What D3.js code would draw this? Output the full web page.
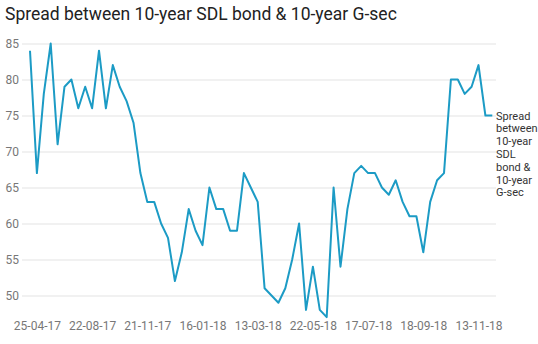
<!DOCTYPE html>
<html><head><meta charset="utf-8">
<script src="https://cdn.jsdelivr.net/npm/d3@7"></script>
<style>
body{margin:0;background:#fff;}
svg{display:block;font-family:Roboto,"Noto Sans",sans-serif;}
</style></head>
<body><svg id="c" width="538" height="344"></svg>
<script>
const title = "Spread between 10-year SDL bond & 10-year G-sec";
const seriesName = ["Spread","between","10-year","SDL","bond &","10-year","G-sec"];
const values = [84,67,78,85,71,79,80,76,79,76,84,76,82,79,77,74,67,63,63,60,58,52,56,62,59,57,65,62,62,59,59,67,65,63,51,50,49,51,55,60,48,54,48,47,65,54,62,67,68,67,67,65,64,66,63,61,61,56,63,66,67,80,80,78,79,82,75,75];
const tickIndex = [1,9,17,25,33,41,49,57,65];
const tickLabels = ["25-04-17","22-08-17","21-11-17","16-01-18","13-03-18","22-05-18","17-07-18","18-09-18","13-11-18"];
const yTicks = [50,55,60,65,70,75,80,85];

const svg = d3.select("#c");
const x = d3.scalePoint().domain(d3.range(values.length)).range([30, 492.3]);
const y = d3.scaleLinear().domain([50, 85]).range([295.5, 43.5]);

svg.append("text").attr("x",5).attr("y",20).attr("font-size",17.5).attr("fill","#222").text(title);

const yAxis = svg.append("g").attr("transform","translate(22,0)")
  .call(d3.axisLeft(y).tickValues(yTicks).tickSize(-474).tickPadding(3));
yAxis.select(".domain").remove();
yAxis.selectAll("line").attr("stroke","#e3e3e3");
yAxis.selectAll("text").attr("font-size",12).attr("fill","#777").attr("font-family","Roboto,sans-serif");

const xAxis = svg.append("g").attr("transform","translate(0,318)")
  .call(d3.axisBottom(x).tickValues(tickIndex).tickFormat((d,i)=>tickLabels[i]).tickSize(0).tickPadding(3));
xAxis.select(".domain").remove();
xAxis.selectAll("text").attr("font-size",12).attr("fill","#777").attr("font-family","Roboto,sans-serif");

svg.append("path").datum(values)
  .attr("fill","none").attr("stroke","#1c9bc5").attr("stroke-width",2).attr("stroke-linejoin","round")
  .attr("d", d3.line().x((d,i)=>x(i)).y(d=>y(d)));

const lab = svg.append("text").attr("x",496).attr("y",y(values[values.length-1])+4)
  .attr("font-size",11).attr("fill","#333");
seriesName.forEach((s,i)=>lab.append("tspan").attr("x",496).attr("dy",i===0?0:12.8).text(s));
</script></body></html>
